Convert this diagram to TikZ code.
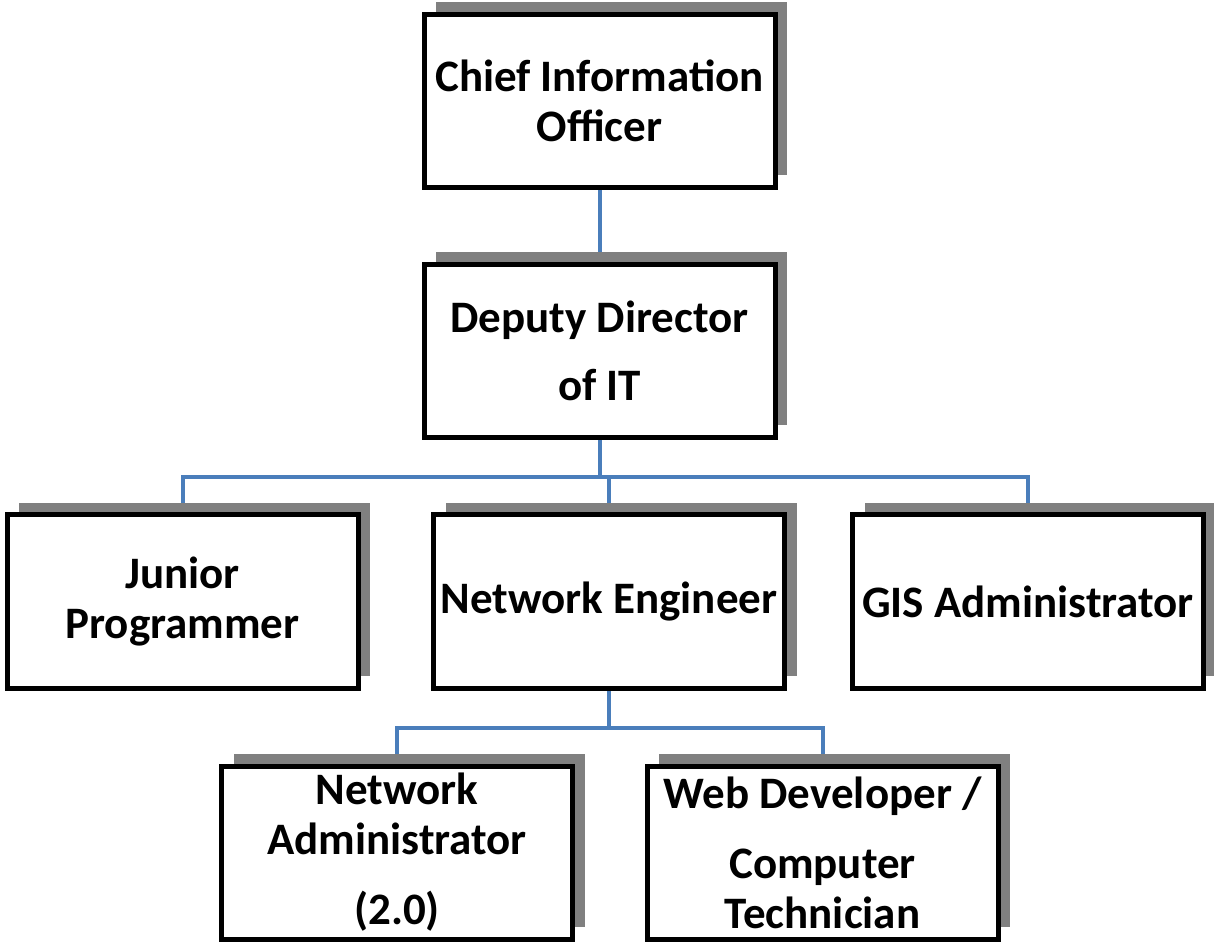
\documentclass[tikz,border=0pt]{standalone}
\usepackage{fontspec}
\setmainfont{Carlito}
\usetikzlibrary{shadows,backgrounds}
\definecolor{linkblue}{RGB}{74,126,187}
\definecolor{shadegray}{RGB}{128,128,128}

\begin{document}
\begin{tikzpicture}[x=0.5pt,y=-0.5pt]
\tikzstyle{post}=[draw,line width=2.5pt,fill=white,minimum width=175.5pt,minimum height=86.5pt,align=center,inner sep=2pt,font=\fontsize{22.5}{25}\selectfont\bfseries,drop shadow={shadow xshift=6pt,shadow yshift=6pt,fill=shadegray,opacity=1}];
\tikzstyle{link}=[draw=linkblue,line width=2pt];
\useasboundingbox (0,0) rectangle (1214,945);
\node (CIO) [post] at (599.5,101) {Chief Information\\Officer};
\node (DD) [post] at (599.5,351) {Deputy Director\\[9pt]of IT};
\node (JP) [post] at (182.5,601.5) {Junior\\Programmer};
\node (NE) [post] at (609,601.5) {Network Engineer};
\node (GIS) [post] at (1028,601.5) {GIS Administrator};
\node (NA) [post] at (397,852.5) {Network\\Administrator\\[10pt](2.0)};
\node (WD) [post] at (822.5,852.5) {Web Developer /\\[10pt]Computer\\Technician};
\coordinate (busA) at (599.5,477);
\coordinate (busB) at (609,728);
\begin{scope}[on background layer]
\draw[link] (CIO) -- (DD);
\draw[link] (DD.south) -- (busA) -| (JP.north);
\draw[link] (busA) -| (NE.north);
\draw[link] (busA) -| (GIS.north);
\draw[link] (NE.south) -- (busB) -| (NA.north);
\draw[link] (busB) -| (WD.north);
\end{scope}
\end{tikzpicture}
\end{document}
